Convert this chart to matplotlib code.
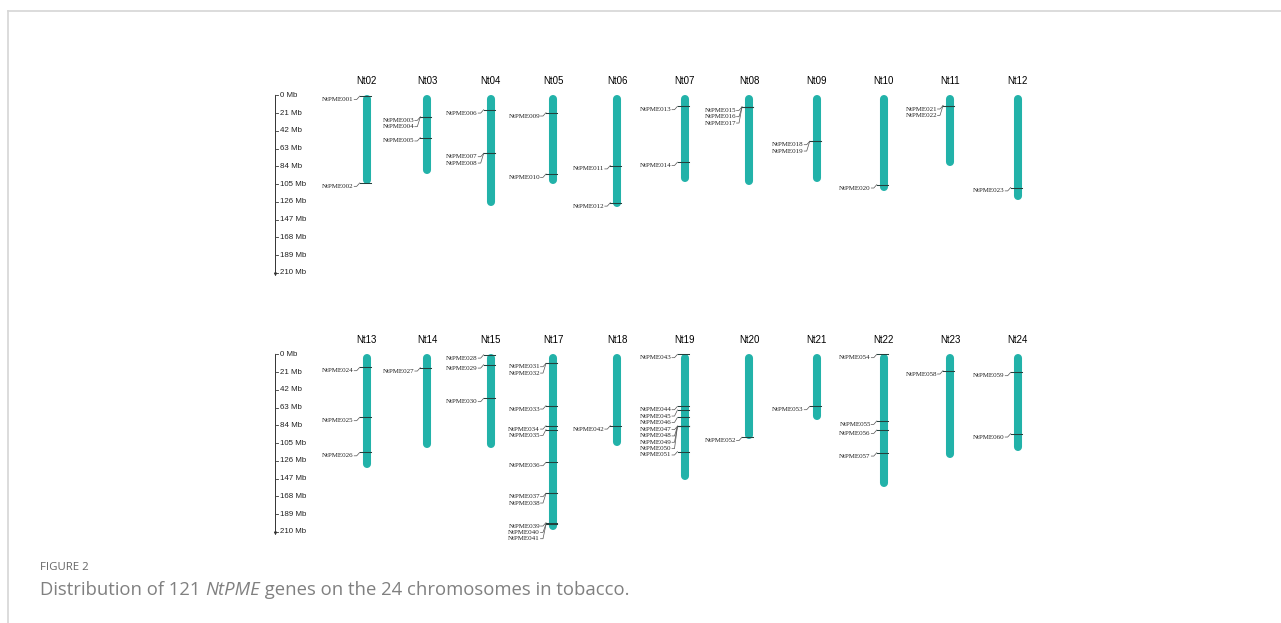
import matplotlib.pyplot as plt

# chromosomes (lengths in Mb)
top_chroms = ['Nt02', 'Nt03', 'Nt04', 'Nt05', 'Nt06', 'Nt07', 'Nt08', 'Nt09', 'Nt10', 'Nt11', 'Nt12']
top_lengths = [105, 93, 131, 105, 132, 102, 106, 102, 113, 84, 124]
bottom_chroms = ['Nt13', 'Nt14', 'Nt15', 'Nt17', 'Nt18', 'Nt19', 'Nt20', 'Nt21', 'Nt22', 'Nt23', 'Nt24']
bottom_lengths = [134, 111, 111, 208, 108, 149, 100, 78, 157, 122, 114]

# genes: name, chromosome, position (Mb)
gene_names = ['NtPME%03d' % i for i in range(1, 61)]
gene_chrom = ['Nt02', 'Nt02', 'Nt03', 'Nt03', 'Nt03', 'Nt04', 'Nt04', 'Nt04', 'Nt05', 'Nt05',
              'Nt06', 'Nt06', 'Nt07', 'Nt07', 'Nt08', 'Nt08', 'Nt08', 'Nt09', 'Nt09', 'Nt10',
              'Nt11', 'Nt11', 'Nt12', 'Nt13', 'Nt13', 'Nt13', 'Nt14', 'Nt15', 'Nt15', 'Nt15',
              'Nt17', 'Nt17', 'Nt17', 'Nt17', 'Nt17', 'Nt17', 'Nt17', 'Nt17', 'Nt17', 'Nt17',
              'Nt17', 'Nt18', 'Nt19', 'Nt19', 'Nt19', 'Nt19', 'Nt19', 'Nt19', 'Nt19', 'Nt19',
              'Nt19', 'Nt20', 'Nt21', 'Nt22', 'Nt22', 'Nt22', 'Nt22', 'Nt23', 'Nt24', 'Nt24']
gene_pos = [1, 103.6, 25.6, 25.6, 50, 17, 68.6, 68.6, 20.5, 93,
            83, 127, 13, 79, 13.8, 13.8, 13.8, 54.4, 54.4, 105.6,
            12.2, 12.2, 109, 15.4, 74.5, 116, 15.8, 0.5, 12.3, 52,
            10.7, 10.7, 60.7, 84.4, 89, 127.7, 164.3, 164.3, 199, 200.5,
            201, 84.4, 0, 61.5, 65.8, 74.5, 85, 85, 85, 85,
            115, 98, 61.5, 0, 78.8, 89.5, 116.3, 19.3, 21.3, 93.8]

scale_ticks = [0, 21, 42, 63, 84, 105, 126, 147, 168, 189, 210]

# layout (pixels)
W, H = 1281, 623
col_x = [366.7, 427.3, 490.7, 553, 617.3, 684.5, 749, 816.7, 883.8, 950, 1017.7]
px_per_mb = 0.846
chrom_color = '#22b2a9'

fig = plt.figure(figsize=(W / 100, H / 100), dpi=100)

mb_top, mb_bot = -30, 230


def px(mb):
    return mb / px_per_mb


def make_row(zero_px):
    top_px = zero_px + mb_top * px_per_mb
    h = (mb_bot - mb_top) * px_per_mb
    ax = fig.add_axes([0, 1 - (top_px + h) / H, 1, h / H])
    ax.set_xlim(0, W)
    ax.set_ylim(mb_bot, mb_top)
    ax.axis('off')
    return ax


def draw_row(ax, chroms, lengths):
    # scale bar
    sx = 275.5
    ax.annotate('', xy=(sx, 214), xytext=(sx, 0),
                arrowprops=dict(arrowstyle='-|>', lw=0.7, color='#333333', mutation_scale=4,
                                shrinkA=0, shrinkB=0))
    for t in scale_ticks:
        ax.plot([sx, sx + 2.5], [t, t], color='#333333', lw=0.6)
        ax.text(sx + 4, t, f'{t} Mb', fontsize=5.7, family='Liberation Sans',
                ha='left', va='center', color='#222222')

    r = px(4)
    for x, name, L in zip(col_x, chroms, lengths):
        ax.text(x, -17, name, fontsize=7, family='Liberation Sans', ha='center', va='center')
        ax.plot([x, x], [r, L - r], color=chrom_color, lw=5.8, solid_capstyle='round',
                zorder=2)
        genes = sorted([(p, g) for g, c, p in zip(gene_names, gene_chrom, gene_pos) if c == name])
        last = -1e9
        for p, g in genes:
            ly = max(p + 4, last + 7.5)
            last = ly
            ax.plot([x - 7, x + 4], [p, p], color='#24403c', lw=0.75, zorder=3)
            ax.plot([x - 12.5, x - 10, x - 7], [ly, ly, p], color='#555555', lw=0.5, zorder=3)
            ax.text(x - 13, ly, g, fontsize=5, family='Liberation Serif',
                    ha='right', va='center', color='#222222')


ax1 = make_row(95.3)
draw_row(ax1, top_chroms, top_lengths)
ax2 = make_row(354.3)
draw_row(ax2, bottom_chroms, bottom_lengths)

# frame lines of the page
fig.add_artist(plt.Line2D([8 / W, 1], [1 - 10.5 / H, 1 - 10.5 / H], color='#d6d6d6', lw=1.2))
fig.add_artist(plt.Line2D([8 / W, 8 / W], [0, 1 - 10.5 / H], color='#d6d6d6', lw=1.2))

# caption
cap_font = 'Open Sans'
cap_size = 13.35
fig.text(40 / W, 1 - 568 / H, 'FIGURE 2', fontsize=8.2, family=cap_font, color='#666666',
         va='center', ha='left')
t1 = fig.text(40 / W, 1 - 590 / H, 'Distribution of 121 ', fontsize=cap_size, family=cap_font,
              color='#808080', va='center', ha='left')
t2 = fig.text(0, 0, 'NtPME', fontsize=cap_size, family=cap_font, style='italic', color='#808080')
t3 = fig.text(0, 0, ' genes on the 24 chromosomes in tobacco.', fontsize=cap_size, family=cap_font,
              color='#808080')
fig.canvas.draw()
r = fig.canvas.get_renderer()
b1 = t1.get_window_extent(r)
t2.set_position((b1.x1 / W, b1.y0 / H))
t2.set_va('bottom')
t2.set_ha('left')
fig.canvas.draw()
b2 = t2.get_window_extent(r)
t3.set_position((b2.x1 / W, b1.y0 / H))
t3.set_va('bottom')
t3.set_ha('left')

fig.savefig('out.png', dpi=100)
